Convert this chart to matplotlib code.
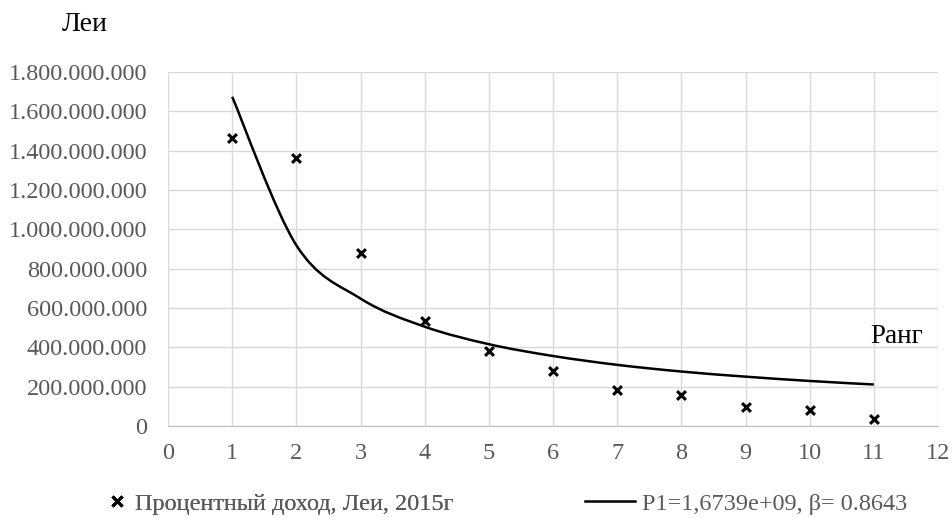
import numpy as np
import matplotlib.pyplot as plt
from matplotlib.path import Path
from matplotlib.patches import PathPatch
from matplotlib.lines import Line2D
from matplotlib.ticker import FuncFormatter

plt.rcParams['font.family'] = ['Liberation Serif', 'DejaVu Serif']

# data
rank = [1, 2, 3, 4, 5, 6, 7, 8, 9, 10, 11]
income = [1465e6, 1365e6, 878e6, 533e6, 383e6, 282e6, 183e6, 160e6, 97e6, 80e6, 37e6]
fit = [1674e6, 919e6, 648e6, 505e6, 416e6, 356e6, 311e6, 277e6, 251e6, 229e6, 211e6]

scatter_label = 'Процентный доход, Леи, 2015г'
fit_label = 'P1=1,6739e+09, β= 0.8643'

fig = plt.figure(figsize=(9.52, 5.18), dpi=100)
ax = fig.add_axes([0.1765, 0.1776, 0.8088, 0.6834])

# smoothed line like Excel (bezier through the points)
pts = np.column_stack([rank, fit]).astype(float)
ext = np.vstack([pts[0], pts, pts[-1]])
verts = [pts[0]]
codes = [Path.MOVETO]
for i in range(len(pts) - 1):
    c1 = ext[i + 1] + (ext[i + 2] - ext[i]) / 6
    c2 = ext[i + 2] - (ext[i + 3] - ext[i + 1]) / 6
    verts += [c1, c2, pts[i + 1]]
    codes += [Path.CURVE4] * 3
ax.add_patch(PathPatch(Path(verts, codes), fill=False, edgecolor='black', lw=1.8, zorder=3))

ax.scatter(rank, income, marker='x', color='black', s=40, linewidths=2.2, zorder=4)

ax.set_xlim(0, 12)
ax.set_ylim(0, 1.8e9)
ax.set_xticks(range(0, 13))
ax.set_yticks(np.arange(0, 1.8e9 + 1, 2e8))
ax.yaxis.set_major_formatter(FuncFormatter(lambda v, p: f'{int(round(v)):,}'.replace(',', '.')))
ax.grid(True, color='#d9d9d9', lw=1)
ax.set_axisbelow(True)
for s in ['top', 'right', 'left']:
    ax.spines[s].set_visible(False)
ax.spines['bottom'].set_color('#bfbfbf')
ax.tick_params(length=0, labelsize=17.5, labelcolor='#595959')
ax.tick_params(axis='y', pad=15)
ax.tick_params(axis='x', pad=12)

fig.text(0.065, 0.952, 'Леи', fontsize=20, ha='left', va='center')
ax.text(10.94, 4.22e8, 'Ранг', fontsize=19.5, ha='left', va='baseline')

# legend at the bottom, two separate entries
h1 = Line2D([], [], marker='x', color='black', ls='none', markersize=7, mew=2.2)
h2 = Line2D([], [], color='black', lw=1.8)
leg1 = fig.legend([h1], [scatter_label], loc='center left', bbox_to_anchor=(0.1103, 0.028),
                  frameon=False, fontsize=17.5, handlelength=1.0, handletextpad=0.25,
                  borderpad=0, borderaxespad=0, labelcolor='#595959')
fig.add_artist(leg1)
fig.legend([h2], [fit_label], loc='center left', bbox_to_anchor=(0.6145, 0.028),
           frameon=False, fontsize=17.5, handlelength=2.05, handletextpad=0.29,
           borderpad=0, borderaxespad=0, labelcolor='#595959')

fig.savefig('out.png', dpi=100)
